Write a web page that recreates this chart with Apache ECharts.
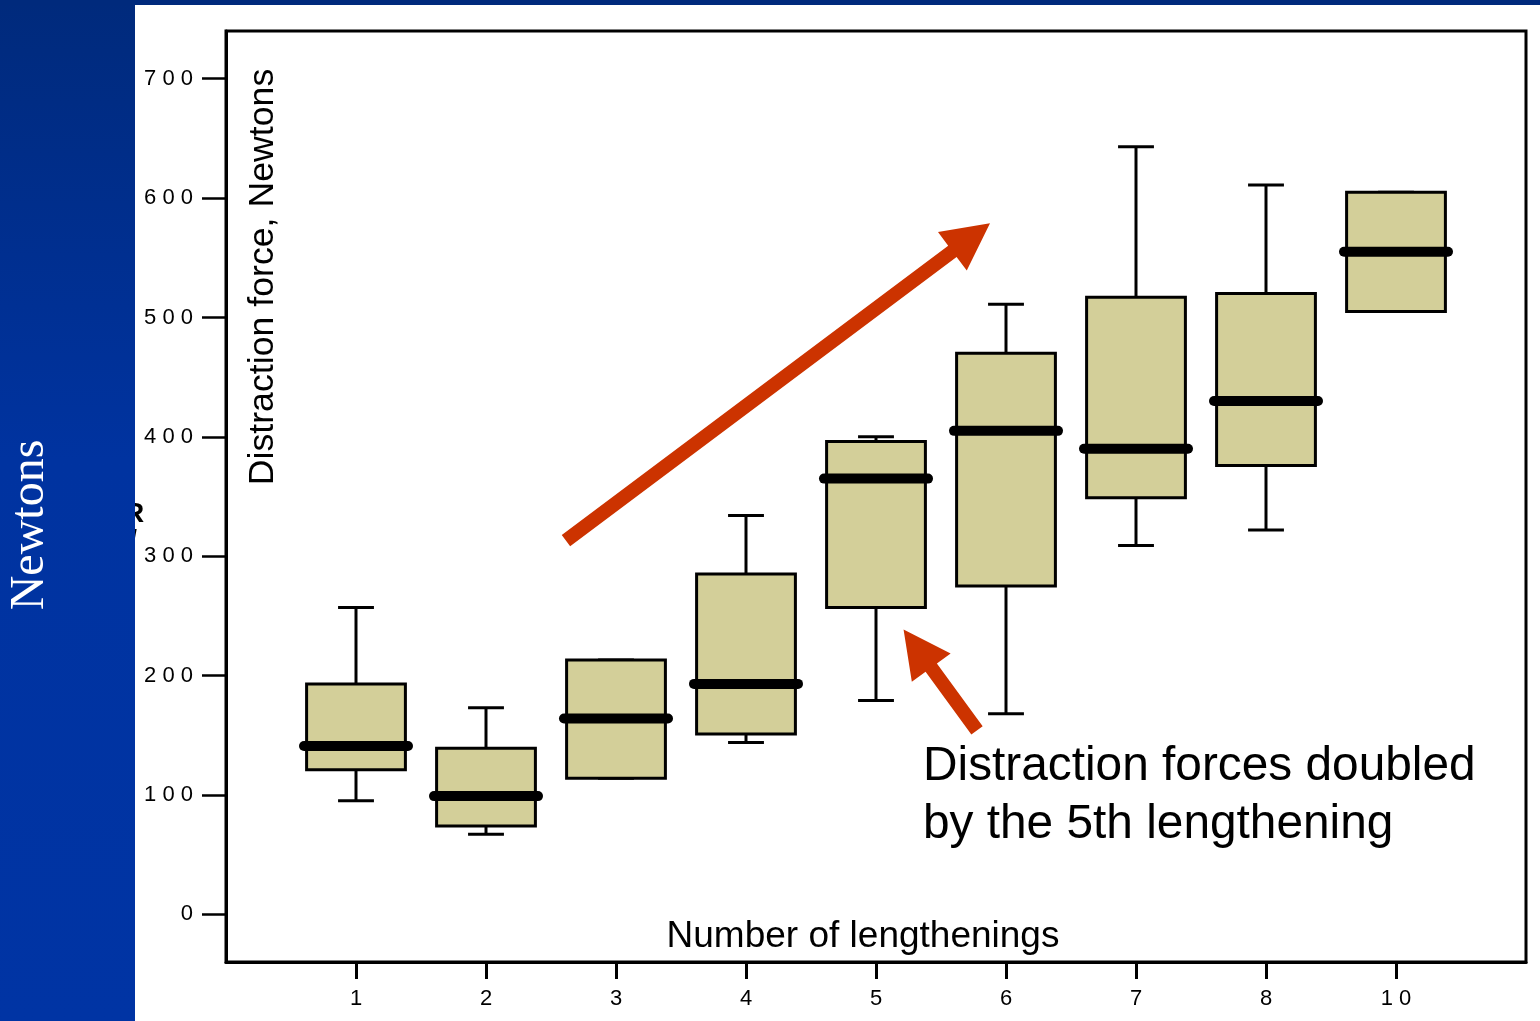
<!DOCTYPE html>
<html><head><meta charset="utf-8">
<script src="https://cdn.jsdelivr.net/npm/echarts@6/dist/echarts.min.js"></script>
<style>html,body{margin:0;padding:0;background:#fff;overflow:hidden}#chart{width:1540px;height:1021px}</style>
</head><body><div id="chart"></div>
<script>
// ---- data ----
const categories = ['1', '2', '3', '4', '5', '6', '7', '8', '10'];
const minVals    = [95, 67, 114, 144, 179, 168, 309, 322, 505];
const q1Vals     = [121, 74, 114, 151, 257, 275, 349, 376, 505];
const medianVals = [141, 99, 164, 193, 365, 405, 390, 430, 555];
const q3Vals     = [193, 139, 213, 285, 396, 470, 517, 520, 605];
const maxVals    = [257, 173, 213, 334, 400, 511, 643, 611, 605];
const yTickValues = [0, 100, 200, 300, 400, 500, 600, 700];
// annotation arrows: [fromX, fromY, toX, toY] in data units
const bigArrow   = [2.615, 313, 5.877, 579];
const smallArrow = [5.777, 154, 5.212, 238.5];

const positions = categories.map((c, i) => i + 1);
const boxData = positions.map((p, i) => [p, minVals[i], q1Vals[i], medianVals[i], q3Vals[i], maxVals[i]]);
const spaced = s => String(s).split('').join(' ');

function renderBox(params, api) {
  const x = api.value(0);
  const unit = api.size([1, 0])[0];
  const pMin = api.coord([x, api.value(1)]);
  const pQ1 = api.coord([x, api.value(2)]);
  const pMed = api.coord([x, api.value(3)]);
  const pQ3 = api.coord([x, api.value(4)]);
  const pMax = api.coord([x, api.value(5)]);
  const cx = pMin[0];
  const bw = unit * 0.38, cw = unit * 0.138, mw = unit * 0.40;
  const ls = { stroke: '#000', lineWidth: 3 };
  return {
    type: 'group',
    children: [
      { type: 'line', shape: { x1: cx, y1: pQ1[1], x2: cx, y2: pMin[1] }, style: ls },
      { type: 'line', shape: { x1: cx - cw, y1: pMin[1], x2: cx + cw, y2: pMin[1] }, style: ls },
      { type: 'line', shape: { x1: cx, y1: pQ3[1], x2: cx, y2: pMax[1] }, style: ls },
      { type: 'line', shape: { x1: cx - cw, y1: pMax[1], x2: cx + cw, y2: pMax[1] }, style: ls },
      { type: 'rect', shape: { x: cx - bw, y: pQ3[1], width: 2 * bw, height: pQ1[1] - pQ3[1] },
        style: { fill: '#d3cf99', stroke: '#000', lineWidth: 3 } },
      { type: 'line', shape: { x1: cx - mw, y1: pMed[1], x2: cx + mw, y2: pMed[1] },
        style: { stroke: '#000', lineWidth: 10, lineCap: 'round' } }
    ]
  };
}

function renderArrow(params, api) {
  const p0 = api.coord([api.value(0), api.value(1)]);
  const p1 = api.coord([api.value(2), api.value(3)]);
  const dx = p1[0] - p0[0], dy = p1[1] - p0[1];
  const L = Math.hypot(dx, dy);
  const ux = dx / L, uy = dy / L, nx = -uy, ny = ux;
  const sw = 7, hl = 47, hw = 24;
  const nk = [p1[0] - ux * hl, p1[1] - uy * hl];
  const pts = [
    [p0[0] + nx * sw, p0[1] + ny * sw],
    [nk[0] + nx * sw, nk[1] + ny * sw],
    [nk[0] + nx * hw, nk[1] + ny * hw],
    p1,
    [nk[0] - nx * hw, nk[1] - ny * hw],
    [nk[0] - nx * sw, nk[1] - ny * sw],
    [p0[0] - nx * sw, p0[1] - ny * sw]
  ];
  return { type: 'polygon', shape: { points: pts }, style: { fill: '#cc3300' } };
}

const FONT = '"Liberation Sans", Arial, sans-serif';
const chart = echarts.init(document.getElementById('chart'), null, { renderer: 'canvas' });
chart.setOption({
  animation: false,
  backgroundColor: '#fff',
  grid: { left: 226, right: 14, top: 31, bottom: 59, show: true, borderColor: '#000', borderWidth: 3, backgroundColor: 'transparent' },
  xAxis: {
    type: 'value', min: 0, max: 10,
    axisLine: { show: true, onZero: false, lineStyle: { color: '#000', width: 3 } },
    axisTick: { show: true, customValues: positions, length: 17, lineStyle: { color: '#000', width: 3 } },
    axisLabel: { show: true, customValues: positions, margin: 26, fontSize: 22, color: '#000', fontFamily: FONT,
      formatter: v => spaced(categories[Math.round(v) - 1] || '') },
    splitLine: { show: false }
  },
  yAxis: {
    type: 'value', min: -40, max: 740,
    axisLine: { show: true, onZero: false, lineStyle: { color: '#000', width: 3 } },
    axisTick: { show: true, customValues: yTickValues, length: 24, lineStyle: { color: '#000', width: 2.5 } },
    axisLabel: { show: true, customValues: yTickValues, margin: 33, fontSize: 22, color: '#000', fontFamily: FONT,
      formatter: v => spaced(v) },
    splitLine: { show: false }
  },
  series: [
    { type: 'custom', renderItem: renderBox, data: boxData, encode: { x: 0, y: [1, 2, 3, 4, 5] }, z: 2 },
    { type: 'custom', renderItem: renderArrow, data: [bigArrow, smallArrow], encode: { x: [0, 2], y: [1, 3] }, z: 3 }
  ],
  graphic: [
    { type: 'text', left: 124, top: 500, z: 1, style: { text: 'R', font: 'bold 28px ' + FONT, fill: '#000' } },
    { type: 'text', left: 127, top: 528, z: 1, style: { text: '/', font: 'bold 36px ' + FONT, fill: '#000' } },
    { type: 'text', x: 141, y: 462, rotation: Math.PI / 2, z: 1,
      style: { text: 'SSS', font: 'bold 26px ' + FONT, fill: '#000', align: 'center', verticalAlign: 'bottom' } },
    { type: 'rect', shape: { x: 0, y: 0, width: 135, height: 1021 }, z: 10,
      style: { fill: new echarts.graphic.LinearGradient(0, 0, 0, 1, [
        { offset: 0, color: '#002a7c' }, { offset: 0.45, color: '#0033a0' }, { offset: 1, color: '#0034a4' }]) } },
    { type: 'rect', shape: { x: 0, y: 0, width: 1540, height: 5 }, z: 10, style: { fill: '#002a7c' } },
    { type: 'text', x: 30, y: 525, rotation: Math.PI / 2, z: 11,
      style: { text: 'Newtons', font: '48px "Liberation Serif", "Times New Roman", serif', fill: '#fff', align: 'center', verticalAlign: 'middle' } },
    { type: 'text', x: 263, y: 277, rotation: Math.PI / 2, z: 5,
      style: { text: 'Distraction force, Newtons', font: '35.7px ' + FONT, fill: '#000', align: 'center', verticalAlign: 'middle' } },
    { type: 'text', x: 863, y: 937, z: 5,
      style: { text: 'Number of lengthenings', font: '37px ' + FONT, fill: '#000', align: 'center', verticalAlign: 'middle' } },
    { type: 'text', x: 923, y: 767, z: 5,
      style: { text: 'Distraction forces doubled', font: '47.8px ' + FONT, fill: '#000', align: 'left', verticalAlign: 'middle' } },
    { type: 'text', x: 923, y: 825, z: 5,
      style: { text: 'by the 5th lengthening', font: '47.8px ' + FONT, fill: '#000', align: 'left', verticalAlign: 'middle' } }
  ]
});
</script></body></html>
